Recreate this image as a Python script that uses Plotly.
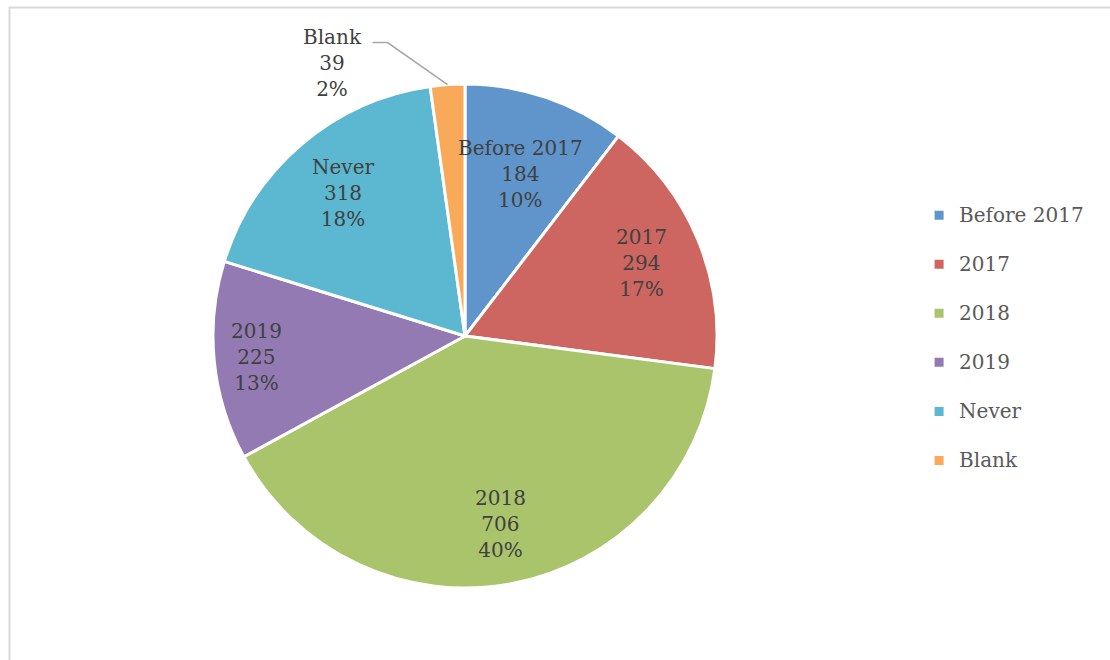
import math
import plotly.graph_objects as go

# Survey responses by year
categories = ["Before 2017", "2017", "2018", "2019", "Never", "Blank"]
counts = [184, 294, 706, 225, 318, 39]
colors = ["#5F95CA", "#CD6660", "#AAC46C", "#937AB2", "#5BB8D0", "#F9A95A"]

W, H = 1110, 660
FONT = "DejaVu Serif"
TEXT_COLOR = "#404040"

# pie geometry in pixels
cx, cy, r = 465, 336, 252
# radial placement of each slice label (fraction of radius)
label_radius = [0.68, 0.76, 0.76, 0.83, 0.745, None]

total = sum(counts)
pct = [round(100 * c / total) for c in counts]

fig = go.Figure()
fig.add_trace(go.Pie(
    # legend text: a blank second line widens the row spacing
    labels=[f'<span style="font-size:20px">{c}</span><br> ' for c in categories],
    values=counts,
    sort=False,
    direction="clockwise",
    rotation=0,
    marker=dict(colors=colors, line=dict(color="white", width=3)),
    textinfo="none",
    customdata=categories,
    hovertemplate="%{customdata}: %{value} (%{percent})<extra></extra>",
    domain=dict(x=[(cx - r) / W, (cx + r) / W], y=[1 - (cy + r) / H, 1 - (cy - r) / H]),
))


def to_paper(px, py):
    return px / W, 1 - py / H


label_font = dict(family=FONT, size=20, color=TEXT_COLOR)
annotations = []
shapes = []
cum = 0
for i, c in enumerate(counts):
    mid = (cum + c / 2) / total * 2 * math.pi
    cum += c
    text = f"{categories[i]}<br>{c}<br>{pct[i]}%"
    if label_radius[i] is not None:
        rf = label_radius[i] * r
        x, y = to_paper(cx + rf * math.sin(mid), cy - rf * math.cos(mid))
    else:
        # outside label with a leader line
        ex, ey = cx + r * math.sin(mid), cy - r * math.cos(mid)
        bx, by = ex - 60, ey - 42
        tx, ty = bx - 15, by
        x0, y0 = to_paper(ex, ey)
        x1, y1 = to_paper(bx, by)
        x2, y2 = to_paper(tx, ty)
        shapes.append(dict(type="path", xref="paper", yref="paper",
                           path=f"M{x0},{y0} L{x1},{y1} L{x2},{y2}",
                           line=dict(color="#A6A6A6", width=1.5)))
        x, y = to_paper(tx - 40, ty + 20)
    annotations.append(dict(x=x, y=y, xref="paper", yref="paper", text=text,
                            xanchor="center", yanchor="middle",
                            showarrow=False, font=label_font))

# chart area frame
shapes.append(dict(type="rect", xref="paper", yref="paper",
                   x0=9.5 / W, x1=1.05, y0=-0.05, y1=1 - 7.5 / H,
                   line=dict(color="#D9D9D9", width=2), fillcolor="rgba(0,0,0,0)", layer="below"))

fig.update_layout(
    width=W, height=H,
    margin=dict(l=0, r=0, t=0, b=0),
    paper_bgcolor="white",
    plot_bgcolor="white",
    showlegend=True,
    legend=dict(x=0.828, y=0.47, xanchor="left", yanchor="middle",
                font=dict(family=FONT, size=17.7, color="#595959"),
                valign="top", bgcolor="rgba(0,0,0,0)"),
    annotations=annotations,
    shapes=shapes,
)

fig.write_html("out.html")
